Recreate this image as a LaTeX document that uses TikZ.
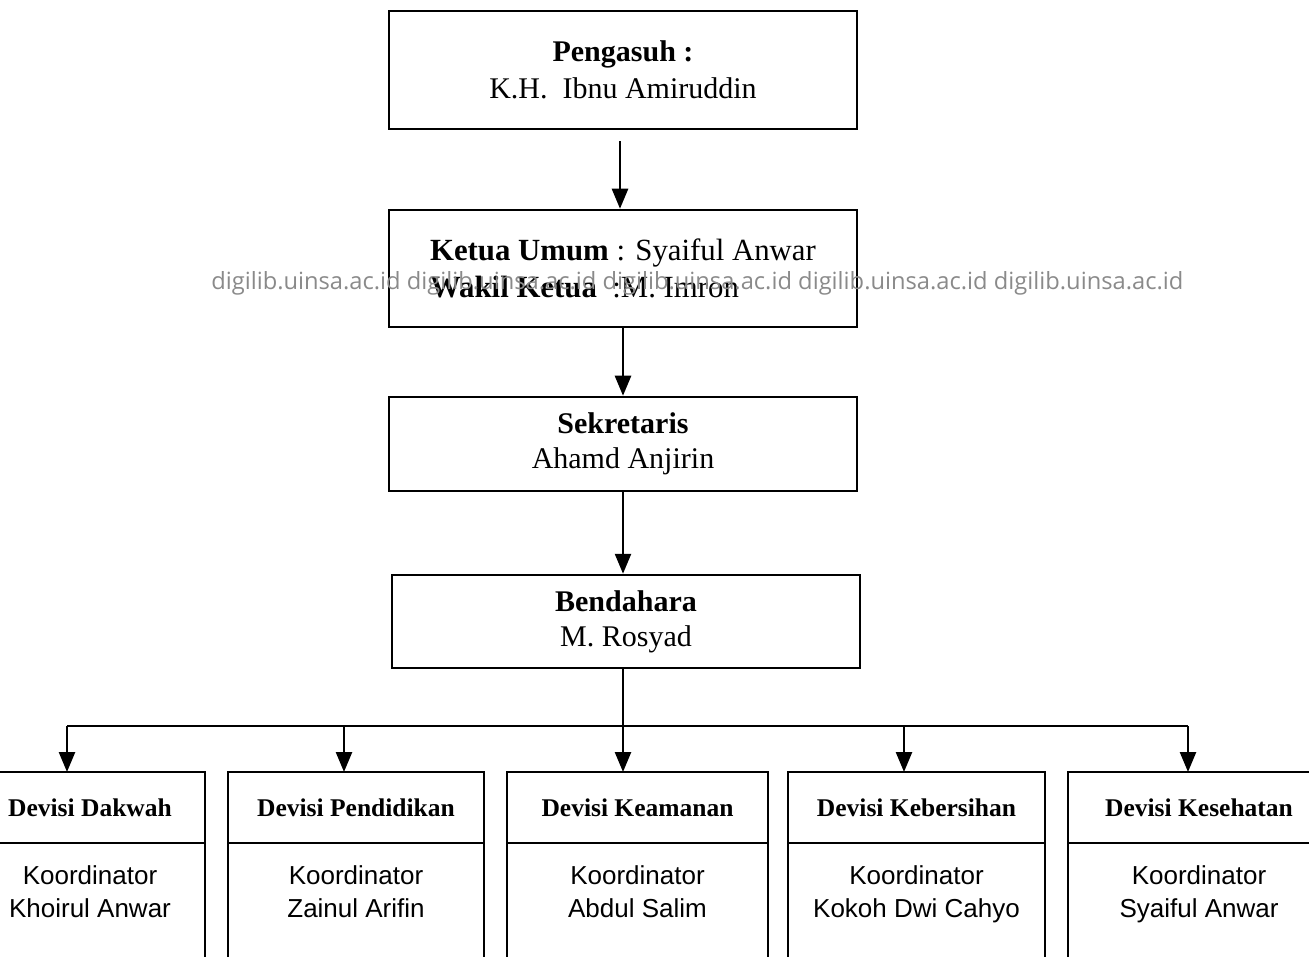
\documentclass[tikz,border=0pt]{standalone}
\usepackage{fontspec}
\setmainfont{Liberation Serif}
\newfontfamily\wmfont{Open Sans}
\newfontfamily\arialf{Liberation Sans}
\usetikzlibrary{arrows.meta}
\definecolor{wmgray}{RGB}{138,138,138}
\begin{document}
\begin{tikzpicture}[x=1pt,y=-1pt,line width=2.5pt,
  topbox/.style={draw,minimum width=468pt,inner sep=0pt,font=\fontsize{30}{37}\selectfont},
  arr/.style={-{Triangle[length=20pt,width=16pt]}},
  divhead/.style={draw,minimum height=71pt,inner sep=0pt,outer sep=0pt,font=\fontsize{25.5}{28}\bfseries\selectfont},
  divbody/.style={draw,minimum height=170pt,inner sep=0pt,outer sep=0pt,anchor=north},
  divtext/.style={align=center,inner sep=0pt,anchor=north,font=\arialf\fontsize{26}{33}\selectfont},
  wm/.style={font=\wmfont\fontsize{23.7}{28}\selectfont,text=wmgray,inner sep=0pt,anchor=base west}
]
\useasboundingbox (0,0) rectangle (1309,957);

% top chain
\node[topbox,minimum height=118pt,align=center] (p) at (623,70)
  {\textbf{Pengasuh :}\\K.H.\ \ Ibnu Amiruddin};
\node[topbox,minimum height=117pt,align=left,font=\fontsize{30.8}{37}\selectfont] (k) at (623,268.5)
  {\textbf{Ketua Umum} : Syaiful Anwar\\\textbf{Wakil Ketua}\ \ :M. Imron};
\node[topbox,minimum height=94pt,align=center,font=\fontsize{30}{35}\selectfont] (s) at (623,444)
  {\textbf{Sekretaris}\\Ahamd Anjirin};
\node[topbox,minimum height=93pt,align=center,font=\fontsize{30}{35}\selectfont] (b) at (626,621.5)
  {\textbf{Bendahara}\\M. Rosyad};

\draw[arr] ([xshift=-3pt,yshift=-11pt]p.south) -- ([xshift=-3pt]k.north);
\draw[arr] (k.south) -- (s.north);
\draw[arr] (s.south) -- (s.south |- b.north);

% divisions
\node[divhead,minimum width=230pt] (hA) at (90,807.5) {Devisi Dakwah};
\node[divhead,minimum width=256pt] (hB) at (356,807.5) {Devisi Pendidikan};
\node[divhead,minimum width=261pt] (hC) at (637.5,807.5) {Devisi Keamanan};
\node[divhead,minimum width=257pt] (hD) at (916.5,807.5) {Devisi Kebersihan};
\node[divhead,minimum width=262pt] (hE) at (1199,807.5) {Devisi Kesehatan};

\node[divbody,minimum width=230pt] (bA) at (hA.south) {};
\node[divbody,minimum width=256pt] (bB) at (hB.south) {};
\node[divbody,minimum width=261pt] (bC) at (hC.south) {};
\node[divbody,minimum width=257pt] (bD) at (hD.south) {};
\node[divbody,minimum width=262pt] (bE) at (hE.south) {};

\node[divtext] (tA) at (90,864) {Koordinator\\Khoirul Anwar};
\node[divtext] (tB) at (356,864) {Koordinator\\Zainul Arifin};
\node[divtext] (tC) at (637.5,864) {Koordinator\\Abdul Salim};
\node[divtext] (tD) at (916.5,864) {Koordinator\\Kokoh Dwi Cahyo};
\node[divtext] (tE) at (1199,864) {Koordinator\\Syaiful Anwar};

% bus
\coordinate (busM) at (623,726);
\coordinate (busA) at (67,726);
\coordinate (busB) at (344,726);
\coordinate (busD) at (904,726);
\coordinate (busE) at (1188,726);
\draw (s.south |- b.south) -- (busM);
\draw (busA) -- (busE);
\draw[arr] (busA) -- (busA |- hA.north);
\draw[arr] (busB) -- (busB |- hB.north);
\draw[arr] (busM) -- (busM |- hC.north);
\draw[arr] (busD) -- (busD |- hD.north);
\draw[arr] (busE) -- (busE |- hE.north);

% watermark
\node[wm] (wmk) at (210,290) {digilib.uinsa.ac.id digilib.uinsa.ac.id digilib.uinsa.ac.id digilib.uinsa.ac.id digilib.uinsa.ac.id};
\end{tikzpicture}
\end{document}
